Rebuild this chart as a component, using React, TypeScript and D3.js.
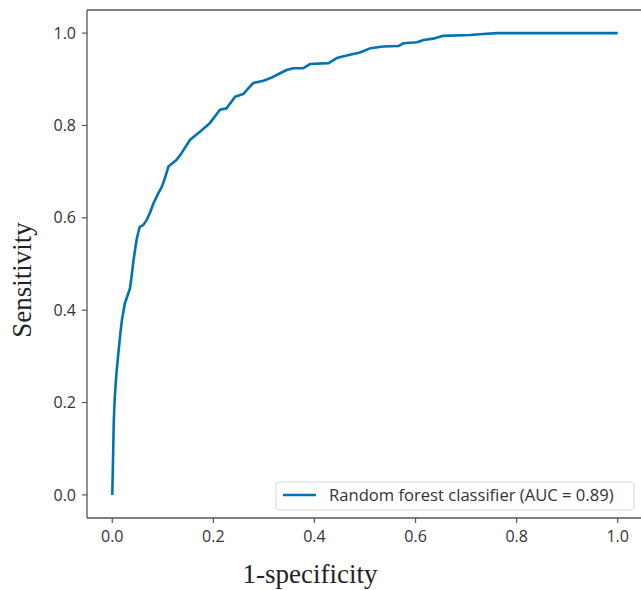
import * as d3 from "d3";

// ROC curve points
const fpr = [
  0, 0.001, 0.002, 0.003, 0.005, 0.008, 0.012, 0.016, 0.019, 0.025, 0.035, 0.039,
  0.042, 0.048, 0.054, 0.061, 0.068, 0.075, 0.081, 0.091, 0.098, 0.104, 0.111,
  0.127, 0.137, 0.154, 0.174, 0.193, 0.213, 0.226, 0.243, 0.259, 0.279, 0.299,
  0.312, 0.332, 0.345, 0.358, 0.378, 0.391, 0.428, 0.444, 0.47, 0.49, 0.51,
  0.536, 0.566, 0.576, 0.603, 0.616, 0.635, 0.655, 0.708, 0.734, 0.761, 1.0,
];
const tpr = [
  0, 0.05, 0.103, 0.16, 0.212, 0.26, 0.306, 0.35, 0.378, 0.415, 0.447, 0.48,
  0.508, 0.552, 0.58, 0.584, 0.595, 0.612, 0.63, 0.653, 0.667, 0.685, 0.711,
  0.725, 0.74, 0.769, 0.787, 0.805, 0.834, 0.837, 0.862, 0.868, 0.892, 0.897,
  0.902, 0.913, 0.92, 0.924, 0.924, 0.933, 0.935, 0.946, 0.953, 0.958, 0.967,
  0.971, 0.972, 0.978, 0.98, 0.985, 0.988, 0.994, 0.996, 0.998, 1.0, 1.0,
];
const ticks = [0, 0.2, 0.4, 0.6, 0.8, 1.0];
const legendLabel = "Random forest classifier (AUC = 0.89)";

const width = 641;
const height = 590;
const left = 87;
const right = 643;
const top = 10;
const bottom = 518;
const lineColor = "#0173b2";
const tickFont = "'Open Sans', 'Noto Sans', sans-serif";

export default function App() {
  const x = d3.scaleLinear().domain([-0.05, 1.05]).range([left, right]);
  const y = d3.scaleLinear().domain([-0.05, 1.05]).range([bottom, top]);

  const pts: [number, number][] = fpr.map((f, i) => [f, tpr[i]]);
  const line = d3
    .line<[number, number]>()
    .x((d) => x(d[0]))
    .y((d) => y(d[1]));

  return (
    <svg
      width={width}
      height={height}
      style={{ position: "absolute", left: 0, top: 0, background: "#fff" }}
    >
      <path d={line(pts) ?? ""} fill="none" stroke={lineColor} strokeWidth={2.6} strokeLinejoin="round" />

      {/* spines */}
      <g stroke="#555" strokeWidth={1.3} fill="none">
        <line x1={left} x2={left} y1={top} y2={bottom} />
        <line x1={left} x2={right} y1={top} y2={top} />
        <line x1={left} x2={right} y1={bottom} y2={bottom} />
        <line x1={right} x2={right} y1={top} y2={bottom} />
      </g>

      {ticks.map((t) => (
        <g key={"x" + t}>
          <line x1={x(t)} x2={x(t)} y1={bottom} y2={bottom + 5} stroke="#555" strokeWidth={1.2} />
          <text x={x(t)} y={bottom + 24} textAnchor="middle" fontSize={16} fontFamily={tickFont} fill="#333">
            {t.toFixed(1)}
          </text>
        </g>
      ))}
      {ticks.map((t) => (
        <g key={"y" + t}>
          <line x1={left - 5} x2={left} y1={y(t)} y2={y(t)} stroke="#555" strokeWidth={1.2} />
          <text x={left - 11} y={y(t)} dy="0.35em" textAnchor="end" fontSize={16} fontFamily={tickFont} fill="#333">
            {t.toFixed(1)}
          </text>
        </g>
      ))}

      <text x={310} y={583} textAnchor="middle" fontSize={27} fontFamily="'Liberation Serif', 'Times New Roman', serif" fill="#222">
        1-specificity
      </text>
      <text
        transform="translate(31,280) rotate(-90)"
        textAnchor="middle"
        fontSize={27}
        fontFamily="'Liberation Serif', 'Times New Roman', serif"
        fill="#222"
      >
        Sensitivity
      </text>

      {/* legend */}
      <g>
        <rect x={276} y={482} width={358} height={28} rx={3} fill="#fff" stroke="#d8d8d8" strokeWidth={1} />
        <line x1={283} x2={316} y1={495} y2={495} stroke={lineColor} strokeWidth={2.6} />
        <text x={329} y={495} dy="0.35em" fontSize={16.6} fontFamily={tickFont} fill="#333">
          {legendLabel}
        </text>
      </g>
    </svg>
  );
}
